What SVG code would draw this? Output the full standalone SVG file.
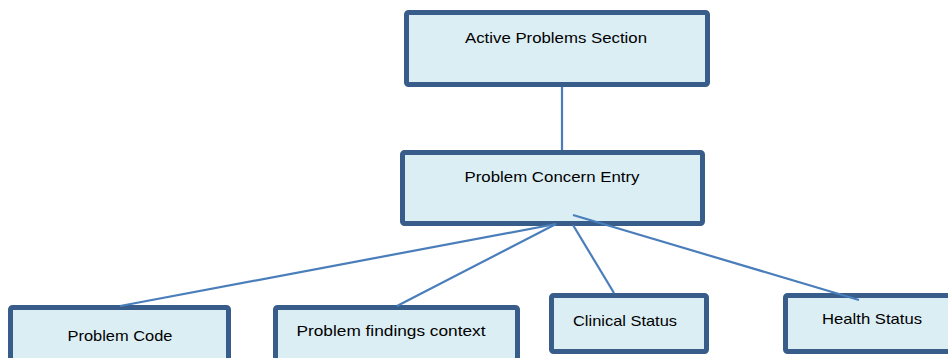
<svg xmlns="http://www.w3.org/2000/svg" width="948" height="358" viewBox="0 0 948 358">
  <style>
    .box { fill: #DBEEF4; stroke: #385D8A; stroke-width: 5; }
    .lbl { font-family: "Liberation Sans", Arial, sans-serif; font-size: 15px; fill: #000; text-anchor: middle; }
    .link { stroke: #4A7EBB; stroke-width: 2.2; fill: none; }
  </style>
  <rect width="948" height="358" fill="#FFFFFF"/>

  <g id="active-problems-section">
    <rect class="box" x="406.5" y="12.5" width="301" height="72" rx="2"/>
    <text class="lbl" x="556" y="43" textLength="182" lengthAdjust="spacingAndGlyphs">Active Problems Section</text>
  </g>

  <g id="problem-concern-entry">
    <rect class="box" x="402.5" y="152.5" width="300" height="71" rx="2"/>
    <text class="lbl" x="552" y="182" textLength="175" lengthAdjust="spacingAndGlyphs">Problem Concern Entry</text>
  </g>

  <g id="problem-code">
    <rect class="box" x="10.5" y="307.5" width="218" height="70" rx="2"/>
    <text class="lbl" x="120" y="341" textLength="105" lengthAdjust="spacingAndGlyphs">Problem Code</text>
  </g>

  <g id="problem-findings-context">
    <rect class="box" x="275.5" y="307.5" width="242" height="70" rx="2"/>
    <text class="lbl" x="391" y="336" textLength="189" lengthAdjust="spacingAndGlyphs">Problem findings context</text>
  </g>

  <g id="clinical-status">
    <rect class="box" x="551.5" y="295.5" width="155" height="56" rx="2"/>
    <text class="lbl" x="625" y="326" textLength="104" lengthAdjust="spacingAndGlyphs">Clinical Status</text>
  </g>

  <g id="health-status">
    <rect class="box" x="785.5" y="295.5" width="180" height="56" rx="2"/>
    <text class="lbl" x="872" y="324" textLength="100" lengthAdjust="spacingAndGlyphs">Health Status</text>
  </g>

  <!-- connectors, drawn over the box outlines -->
  <g id="connectors">
    <line class="link" x1="562" y1="87" x2="562" y2="150"/>
    <line class="link" x1="556" y1="224" x2="120" y2="306"/>
    <line class="link" x1="556" y1="224" x2="397" y2="306"/>
    <line class="link" x1="573" y1="225" x2="614" y2="293"/>
    <line class="link" x1="573" y1="215" x2="859" y2="300"/>
  </g>
</svg>
